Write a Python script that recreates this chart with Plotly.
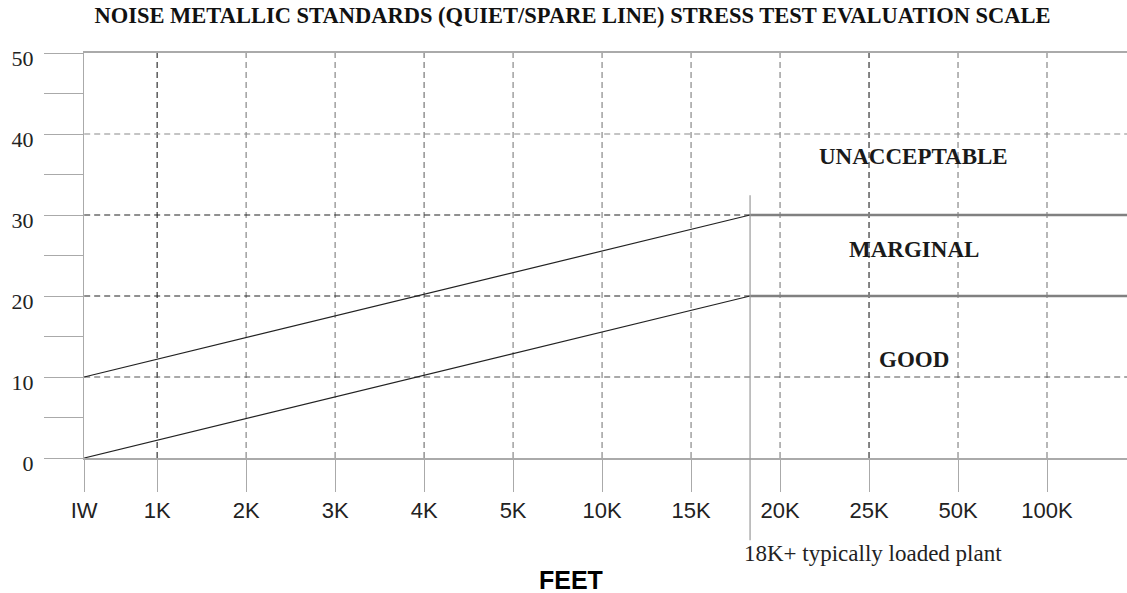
import plotly.graph_objects as go

# ---- data ----
feet_labels = ["IW", "1K", "2K", "3K", "4K", "5K", "10K", "15K", "20K", "25K", "50K", "100K"]
y_tick_values = [0, 5, 10, 15, 20, 25, 30, 35, 40, 45, 50]
y_tick_labels = ["0", "", "10", "", "20", "", "30", "", "40", "", "50"]

# threshold lines: value at IW and at the 18K break, then flat
upper_limit = [10, 30]          # Marginal / Unacceptable boundary
lower_limit = [0, 20]           # Good / Marginal boundary
grid_levels = [10, 20, 30, 40]
zone_names = ["UNACCEPTABLE", "MARGINAL", "GOOD"]
zone_levels = [37.2, 25.8, 12.2]

# ---- axis geometry (positions in axis units) ----
tick_pos = [0.18] + list(range(1, 12))
x_start = tick_pos[0]
x_end = 11.899
x_break = 7.663          # "18K+" point between 15K and 20K
x_zone_label = 9.5

fig = go.Figure()

# sloped lines up to the break
for vals in (upper_limit, lower_limit):
    fig.add_trace(go.Scatter(x=[x_start, x_break], y=vals, mode="lines",
                             line=dict(color="#222222", width=1.2),
                             hoverinfo="skip", showlegend=False))
# flat lines after the break
for vals in (upper_limit, lower_limit):
    fig.add_trace(go.Scatter(x=[x_break, x_end], y=[vals[1], vals[1]], mode="lines",
                             line=dict(color="#808080", width=2.6),
                             hoverinfo="skip", showlegend=False))

shapes = []
# vertical dashed grid lines
vcolors = ["#333333", "#888888", "#888888", "#777777", "#888888", "#888888",
           "#888888", "#888888", "#333333", "#888888", "#888888"]
for p, c in zip(tick_pos[1:], vcolors):
    shapes.append(dict(type="line", xref="x", yref="y", x0=p, x1=p, y0=0, y1=50,
                       line=dict(color=c, width=1.2, dash="6px,4px"), layer="below"))
# horizontal dashed grid lines
for lvl in grid_levels:
    if lvl in (20, 30):
        shapes.append(dict(type="line", xref="x", yref="y", x0=x_start, x1=x_break,
                           y0=lvl, y1=lvl,
                           line=dict(color="#222222", width=1.2, dash="6px,4px"), layer="below"))
    else:
        col = "#555555" if lvl == 10 else "#8a8a8a"
        shapes.append(dict(type="line", xref="x", yref="y", x0=x_start, x1=x_end,
                           y0=lvl, y1=lvl,
                           line=dict(color=col, width=1.2, dash="6px,4px"), layer="below"))
# 18K marker line
shapes.append(dict(type="line", xref="x", yref="paper", x0=x_break, x1=x_break,
                   y0=-0.203, y1=0.649,
                   line=dict(color="#999999", width=1.2)))

annotations = []
for name, lvl in zip(zone_names, zone_levels):
    annotations.append(dict(x=x_zone_label, y=lvl, xref="x", yref="y", text="<b>" + name + "</b>",
                            showarrow=False,
                            font=dict(family="Liberation Serif", size=23, color="#1a1a1a")))

annotations.append(dict(x=x_break, y=-0.2346, xref="x", yref="paper",
                        text="18K+ typically loaded plant", showarrow=False,
                        xanchor="left", yanchor="middle", xshift=-8,
                        font=dict(family="Liberation Serif", size=23, color="#222222")))
annotations.append(dict(x=0.467, y=-0.301, xref="paper", yref="paper",
                        text="<b>FEET</b>", showarrow=False,
                        xanchor="center", yanchor="middle",
                        font=dict(family="Liberation Sans", size=25, color="#000000")))

fig.update_layout(
    width=1127, height=593,
    margin=dict(l=84, r=0, t=53, b=135),
    paper_bgcolor="white", plot_bgcolor="white",
    title=dict(text="<b>NOISE METALLIC STANDARDS (QUIET/SPARE LINE) STRESS TEST EVALUATION SCALE</b>",
               x=0.508, xanchor="center", y=0.975, yanchor="middle",
               xref="container", yref="container",
               font=dict(family="Liberation Serif", size=22.5, color="#111111")),
    shapes=shapes, annotations=annotations,
    showlegend=False,
)

fig.update_xaxes(
    range=[x_start - 0.002, x_end], tickmode="array", tickvals=tick_pos, ticktext=feet_labels,
    showgrid=False, zeroline=False,
    showline=True, linecolor="#aaaaaa", linewidth=1.5, mirror=True,
    ticks="outside", ticklen=32, tickcolor="#aaaaaa", tickwidth=1,
    tickfont=dict(family="Liberation Sans", size=22, color="#222222"),
    ticklabelstandoff=0,
)
fig.update_yaxes(
    range=[0, 50], tickmode="array", tickvals=y_tick_values, ticktext=y_tick_labels,
    showgrid=False, zeroline=False,
    showline=True, linecolor="#aaaaaa", linewidth=1.2,
    ticks="outside", ticklen=39, tickcolor="#aaaaaa", tickwidth=1,
    tickfont=dict(family="Liberation Serif", size=22, color="#222222"),
    ticklabelstandoff=6, ticklabelshift=5,
)

fig.write_html("out.html", config={"displayModeBar": False},
               post_script="document.body.style.margin='0';")
